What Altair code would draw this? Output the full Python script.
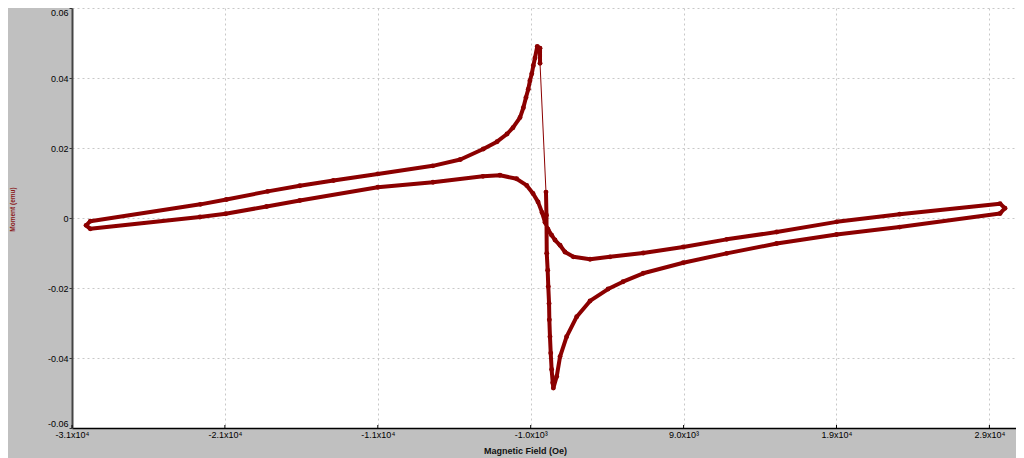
import altair as alt
import pandas as pd

field_oe = [
    0, 30, 50, 110, 150, 200, 220, 260, 310, 370, 440, 480,
    700, 920, 1350, 2010, 2880, 4060, 5040, 6360, 8980, 11820, 15090, 19010, 23130, 29700,
    30020,
    29700, 23130, 19010, 15090, 11820, 8980, 6360, 4190, 2880, 1790, 1240, 920, 590, 370, 130,
    -65, -260, -520, -850, -1260, -1920, -3010, -4120, -7390, -11000, -16100, -18270, -20950,
    -22630, -29800,
    -30080,
    -29800, -22600, -20900, -18200, -16100, -13900, -11000, -7400, -5600, -4100, -3200, -2550,
    -2160, -1700, -1480, -1310, -1160, -1050, -930, -830, -720, -570, -390, -390,
]
moment_emu = [
    0.0074, 0.0008, -0.0101, -0.0149, -0.0196, -0.0244, -0.0291, -0.0339, -0.0386, -0.0433, -0.0471, -0.0486,
    -0.0453, -0.0396, -0.0339, -0.0282, -0.0237, -0.0203, -0.0182, -0.0158, -0.0128, -0.0101, -0.0073, -0.0047, -0.0026, 0.0013,
    0.0028,
    0.0041, 0.0011, -0.0011, -0.0040, -0.0061, -0.0083, -0.0100, -0.0111, -0.0118, -0.0111, -0.0097, -0.0078, -0.0063, -0.0049, -0.0032,
    -0.0012, 0.0016, 0.0046, 0.0070, 0.0093, 0.0112, 0.0122, 0.0119, 0.0102, 0.0088, 0.0050, 0.0033, 0.0012,
    0.0003, -0.0031,
    -0.0021,
    -0.0009, 0.0039, 0.0053, 0.0076, 0.0092, 0.0107, 0.0126, 0.0149, 0.0167, 0.0197, 0.0218, 0.0240,
    0.0258, 0.0287, 0.0315, 0.0344, 0.0368, 0.0392, 0.0412, 0.0435, 0.0457, 0.0490, 0.0485, 0.0442,
]

x_tick_values = [-31000, -21000, -11000, -1000, 9000, 19000, 29000]
x_tick_labels = ["-3.1x10⁴", "-2.1x10⁴", "-1.1x10⁴", "-1.0x10³", "9.0x10³", "1.9x10⁴", "2.9x10⁴"]
y_tick_values = [-0.06, -0.04, -0.02, 0.0, 0.02, 0.04, 0.06]
y_tick_labels = ["-0.06", "-0.04", "-0.02", "0", "0.02", "0.04", "0.06"]

x_title = "Magnetic Field (Oe)"
y_title = "Moment (emu)"

LINE = "#8b0000"
W, H = 944, 420


def label_expr(values, labels):
    expr = "''"
    for v, l in reversed(list(zip(values, labels))):
        expr = f"abs(datum.value - ({v})) < 1e-6 ? '{l}' : ({expr})"
    return expr


df = pd.DataFrame({"field": field_oe, "moment": moment_emu,
                   "order": list(range(len(field_oe)))})
last = len(field_oe) - 1
ticks_df = pd.DataFrame({"field": x_tick_values})

xscale = alt.Scale(domain=[-31000, 30740], nice=False, zero=False)
yscale = alt.Scale(domain=[-0.06, 0.06], nice=False, zero=False)

x_axis = alt.Axis(
    values=x_tick_values, labelExpr=label_expr(x_tick_values, x_tick_labels),
    title=x_title, titleFontWeight="bold", titleFontSize=9, titleColor="#111111",
    titleX=453, titleY=22, titleBaseline="middle", titleAlign="center",
    ticks=False, labelPadding=2, labelFontSize=9, labelColor="#000000",
    labelFont="Liberation Sans", titleFont="Liberation Sans",
    domainColor="#000000", domainWidth=1.5,
    grid=True, gridColor="#c8c8c8", gridDash=[2, 3], gridWidth=1,
    labelOverlap=False, labelFlush=False,
)
y_axis = alt.Axis(
    values=y_tick_values, labelExpr=label_expr(y_tick_values, y_tick_labels),
    title=y_title, titleFontWeight="bold", titleFontSize=6.5, titleColor="#8b1a1a",
    titleAngle=270, titleX=-60, titleY=201, titleAlign="center", titleBaseline="middle",
    tickSize=3, tickColor="#333333", labelPadding=1, labelFontSize=9, labelColor="#000000",
    labelFont="Liberation Sans", titleFont="Liberation Sans",
    domainColor="#444444", domainWidth=2,
    grid=True, gridColor="#c8c8c8", gridDash=[2, 3], gridWidth=1,
    labelOverlap=False, labelFlush=True,
)

base = alt.Chart(df)

thick = base.mark_line(color=LINE, strokeWidth=4, strokeJoin="round", strokeCap="round").encode(
    x=alt.X("field:Q", scale=xscale, axis=x_axis),
    y=alt.Y("moment:Q", scale=yscale, axis=y_axis),
    order=alt.Order("order:Q"),
)

thin = base.transform_filter(
    f"datum.order == 0 || datum.order == {last}"
).mark_line(color=LINE, strokeWidth=1).encode(
    x=alt.X("field:Q", scale=xscale),
    y=alt.Y("moment:Q", scale=yscale),
    order=alt.Order("order:Q"),
)

pts = base.mark_point(filled=True, color=LINE, size=24, opacity=1).encode(
    x=alt.X("field:Q", scale=xscale),
    y=alt.Y("moment:Q", scale=yscale),
)

xticks = alt.Chart(ticks_df).mark_rule(color="#000000", strokeWidth=1).encode(
    x=alt.X("field:Q", scale=xscale),
    y=alt.value(H - 3),
    y2=alt.value(H),
)

chart = alt.layer(thin, thick, pts, xticks).properties(
    width=W, height=H,
    autosize="none",
    padding={"left": 64, "top": 0, "right": 0, "bottom": 30},
    background="#c0c0c0",
    usermeta={"embedOptions": {"defaultStyle": "body{background:#c0c0c0;}"}},
).configure_view(fill="white", stroke=None)

chart.save("out.html", embed_options={"renderer": "svg", "actions": False})
